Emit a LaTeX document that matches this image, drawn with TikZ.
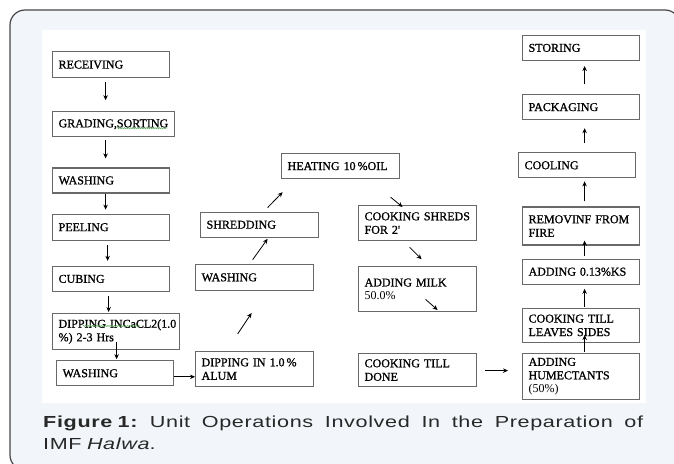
\documentclass[tikz,border=0pt]{standalone}
\usepackage{fontspec}
\setmainfont{Liberation Serif}
\newfontfamily\boxfont{Liberation Serif}[FakeBold=1]
\newfontfamily\plainfont{Liberation Serif}
\newfontfamily\capfont{Liberation Sans}[FakeStretch=1.35, LetterSpace=4]
\usetikzlibrary{arrows.meta, positioning, calc, decorations.pathmorphing}
\definecolor{cPanel}{RGB}{242,246,250}
\definecolor{cFrame}{RGB}{70,70,70}
\definecolor{cBox}{RGB}{105,105,105}
\definecolor{cCap}{RGB}{40,40,40}
\definecolor{cSpell}{RGB}{90,170,90}

\begin{document}
\begin{tikzpicture}[
  x=1pt, y=-1pt,
  proc/.style={draw=cBox, line width=1.2pt, anchor=north west, align=left,
               inner xsep=6pt, inner ysep=2pt, text width=105pt,
               minimum height=25pt,
               font=\boxfont\fontsize{12}{13.5}\selectfont,
               execute at begin node={\hyphenpenalty=10000\relax}},
  arr/.style={-{Stealth[length=5pt, width=4.5pt]}, line width=0.8pt},
  spell/.style={draw=cSpell, line width=0.5pt,
                decorate, decoration={snake, amplitude=0.6pt, segment length=2.2pt}},
  caption/.style={anchor=north west, align=left, inner sep=0pt, text=cCap,
                  text width=610pt, font=\capfont\fontsize{16}{22}\selectfont}
]

%% ── FRAME ────────────────────────────────────────────────────────────────────

\useasboundingbox (0,0) rectangle (674,463);
\fill[white] (0,0) rectangle (674,463);
\draw[cFrame, line width=1.2pt, fill=cPanel, rounded corners=15pt]
  (10,10) rectangle (680,470);
\fill[white] (42,30) rectangle (646,403);

%% ── LEFT COLUMN ──────────────────────────────────────────────────────────────

\node[proc, minimum height=26pt] (rec) at (52,51) {RECEIVING};
\node[proc, text width=110pt, below right=33pt and 0pt of rec.south west] (grad)
  {GRADING,SORTING};
\node[proc, below right=30pt and 0pt of grad.south west] (wash1) {WASHING};
\node[proc, minimum height=26pt, below right=20pt and 0pt of wash1.south west] (peel)
  {PEELING};
\node[proc, below right=25pt and 0pt of peel.south west] (cub) {CUBING};
\node[proc, inner xsep=6pt, text width=115pt, minimum height=36pt,
      below right=21pt and 0pt of cub.south west] (dipca)
  {\mbox{DIPPING INCaCL2(1.0}\\\%) 2-3 Hrs};
\node[proc, below right=10pt and 4pt of dipca.south west] (wash2) {WASHING};

%% ── MIDDLE COLUMN ────────────────────────────────────────────────────────────

\node[proc, text width=106pt, minimum height=35pt] (alum) at (195,351)
  {DIPPING IN 1.0\,\%\\ALUM};
\node[proc, text width=106pt, minimum height=26pt,
      above right=60pt and 0pt of alum.north west] (wash3) {WASHING};
\node[proc, text width=106pt, above right=26pt and 5pt of wash3.north west] (shred)
  {SHREDDING};
\node[proc, text width=106pt] (heat) at (281,153) {HEATING 10\,\%OIL};

\node[proc, text width=106pt, minimum height=35pt] (cshred) at (358,205)
  {COOKING SHREDS\\FOR 2'};
\node[proc, text width=106pt, minimum height=45pt,
      below right=25pt and 0pt of cshred.south west] (milk)
  {ADDING MILK\\{\plainfont 50.0\%}\\[4pt]};
\node[proc, text width=106pt, minimum height=33pt] (done) at (358,353)
  {COOKING TILL\\DONE};

%% ── RIGHT COLUMN ─────────────────────────────────────────────────────────────

\node[proc, minimum height=46pt] (hum) at (522,353)
  {ADDING\\HUMECTANTS\\{\plainfont (50\%)}};
\node[proc, minimum height=34pt, above right=10pt and 0pt of hum.north west] (leave)
  {COOKING TILL\\LEAVES SIDES};
\node[proc, above right=23pt and 0pt of leave.north west] (ks) {ADDING 0.13\%KS};
\node[proc, minimum height=38pt, above right=13pt and 0pt of ks.north west] (remov)
  {REMOVINF FROM\\FIRE};
\node[proc, above right=28pt and -4pt of remov.north west] (cool) {COOLING};
\node[proc, above right=32pt and 4pt of cool.north west] (pack) {PACKAGING};
\node[proc, above right=33pt and 0pt of pack.north west] (stor) {STORING};

%% ── SPELLING MARKS ───────────────────────────────────────────────────────────

\draw[spell] ($(grad.north west)+(65,17)$) -- ($(grad.north west)+(115,17)$);
\draw[spell] ($(dipca.north west)+(31,13)$) -- ($(dipca.north west)+(88,13)$);

%% ── ARROWS: left column ──────────────────────────────────────────────────────

\draw[arr] ($(rec.south)+(-5.5,4)$)   -- ($(grad.north)+(-8,-11)$);
\draw[arr] ($(grad.south)+(-8,3)$)    -- ($(wash1.north)+(-5.5,-9)$);
\draw[arr] ($(wash1.south)+(-5.5,0)$) -- ($(peel.north)+(-5.5,-4)$);
\draw[arr] ($(peel.south)+(-3.5,4)$)  -- ($(cub.north)+(-3.5,-5)$);
\draw[arr] ($(cub.south)+(-2.5,4)$)   -- ($(dipca.north)+(-7.5,-1)$);
\draw[arr] ($(dipca.south)+(0.5,-8)$) -- ($(wash2.north)+(1.5,-1)$);
\draw[arr] ($(wash2.east)+(0,3.5)$)   -- ($(wash2.east -| alum.west)+(0,3.5)$);

%% ── ARROWS: middle ───────────────────────────────────────────────────────────

\draw[arr] ($(alum.north)+(-17,-17)$)  -- ($(wash3.south)+(-3,22)$);
\draw[arr] ($(wash3.north)+(-2,-4)$)   -- ($(shred.south)+(8,1)$);
\draw[arr] ($(shred.north)+(8,-4)$)    -- ($(heat.south)+(-58,13)$);
\draw[arr] ($(heat.south)+(50,18)$)    -- ($(cshred.north)+(-15,2)$);
\draw[arr] ($(cshred.south)+(-8,6)$)   -- ($(milk.north)+(4,-7)$);
\draw[arr] ($(milk.south)+(8,-13)$)    -- ($(done.north)+(20,-43)$);
\draw[arr] ($(done.east)+(8,0.5)$)     -- ($(done.east -| hum.west)+(-14,0.5)$);

%% ── ARROWS: right column ─────────────────────────────────────────────────────

\draw[arr] ($(hum.north)+(3.5,-1)$)    -- ($(leave.south)+(3.5,-8)$);
\draw[arr] ($(leave.north)+(3.5,-1)$)  -- ($(ks.south)+(3.5,4)$);
\draw[arr] ($(ks.north)+(3.5,-3)$)     -- ($(remov.south)+(3.5,-5)$);
\draw[arr] ($(remov.north)+(3.5,-5)$)  -- ($(cool.south)+(7.5,3)$);
\draw[arr] ($(cool.north)+(7.5,-9)$)   -- ($(pack.south)+(3.5,8)$);
\draw[arr] ($(pack.north)+(3.5,-10)$)  -- ($(stor.south)+(3.5,5)$);

%% ── CAPTION ──────────────────────────────────────────────────────────────────

\node[caption] (cap) at (43,416) {%
  \hbox to 600pt{\textbf{Figure 1:}\hfill Unit\hfill Operations\hfill Involved\hfill
    In\hfill the\hfill Preparation\hfill of}\\
  IMF \textit{Halwa}.};

\end{tikzpicture}
\end{document}
